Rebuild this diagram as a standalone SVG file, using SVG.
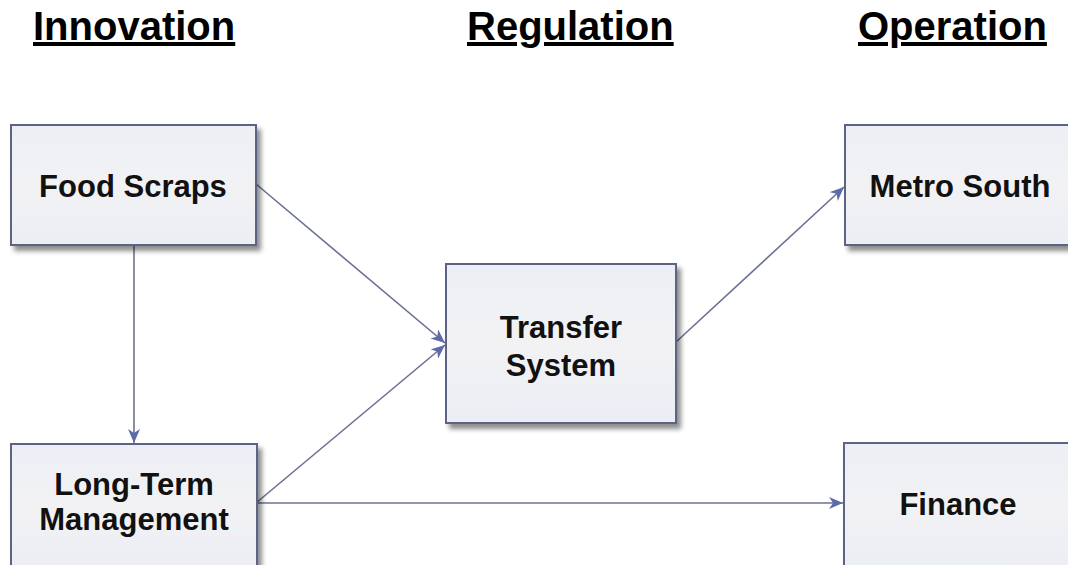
<svg xmlns="http://www.w3.org/2000/svg" width="1068" height="565" viewBox="0 0 1068 565">
<defs>
<style>
.hd{font-family:"Liberation Sans",Arial,sans-serif;font-weight:bold;font-size:40px;fill:#000;text-decoration:underline;}
.lb{font-family:"Liberation Sans",Arial,sans-serif;font-weight:bold;font-size:31px;fill:#111;text-anchor:middle;}
.box{fill:url(#g);stroke:#5d6484;stroke-width:2;filter:url(#sh);}
.ln{stroke:#6c7193;stroke-width:1.6;fill:none;marker-end:url(#ar);}
</style>
<linearGradient id="g" x1="0" y1="0" x2="0" y2="1">
<stop offset="0" stop-color="#eceff5"/>
<stop offset="0.5" stop-color="#f2f2f4"/>
<stop offset="1" stop-color="#eceef5"/>
</linearGradient>
<filter id="sh" x="-10%" y="-10%" width="125%" height="130%">
<feGaussianBlur in="SourceAlpha" stdDeviation="2.5"/>
<feOffset dx="4" dy="5" result="b"/>
<feComponentTransfer><feFuncA type="linear" slope="0.45"/></feComponentTransfer>
<feMerge><feMergeNode/><feMergeNode in="SourceGraphic"/></feMerge>
</filter>
<marker id="ar" viewBox="0 0 14 12" refX="14" refY="6" markerWidth="14" markerHeight="12" markerUnits="userSpaceOnUse" orient="auto">
<path d="M0,0 L14,6 L0,12 L4,6 Z" fill="#5b6aa8"/>
</marker>
</defs>
<rect width="1068" height="565" fill="#fff"/>
<g id="headings">
<text class="hd" x="33" y="40">Innovation</text>
<text class="hd" x="467" y="40">Regulation</text>
<text class="hd" x="858" y="40">Operation</text>
</g>
<g id="connectors">
<line class="ln" x1="134" y1="246" x2="134" y2="443"/>
<line class="ln" x1="256" y1="184" x2="445" y2="343"/>
<line class="ln" x1="256" y1="503" x2="445" y2="345"/>
<line class="ln" x1="676" y1="342" x2="844" y2="187"/>
<line class="ln" x1="256" y1="503" x2="843" y2="503"/>
</g>
<g id="food-scraps">
<rect class="box" x="11" y="125" width="245" height="120"/>
<text class="lb" x="133" y="197">Food Scraps</text>
</g>
<g id="transfer-system">
<rect class="box" x="446" y="264" width="230" height="159"/>
<text class="lb" x="561" y="338">Transfer</text>
<text class="lb" x="561" y="376">System</text>
</g>
<g id="metro-south">
<rect class="box" x="845" y="125" width="240" height="120"/>
<text class="lb" x="960" y="197">Metro South</text>
</g>
<g id="long-term-management">
<rect class="box" x="11" y="444" width="246" height="125"/>
<text class="lb" x="134" y="495">Long-Term</text>
<text class="lb" x="134" y="530">Management</text>
</g>
<g id="finance">
<rect class="box" x="844" y="443" width="240" height="125"/>
<text class="lb" x="958" y="515">Finance</text>
</g>
</svg>
